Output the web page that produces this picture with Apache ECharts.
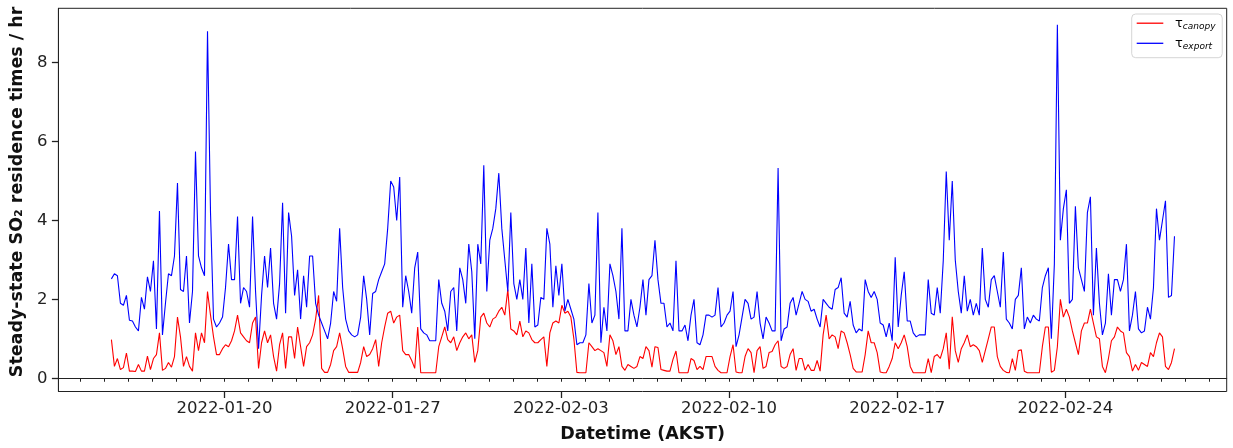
<!DOCTYPE html>
<html>
<head>
<meta charset="utf-8">
<script src="https://cdn.jsdelivr.net/npm/echarts@6/dist/echarts.min.js"></script>
<style>
html,body{margin:0;padding:0;background:#fff;}
#chart{width:1233px;height:448px;}
</style>
</head>
<body>
<div id="chart"></div>
<script>
// ---- data (3-hourly, AKST) ----
const startTime = '2022-01-15T07:00';
const stepHours = 3;
const tauCanopy = [
0.98,0.3,0.5,0.22,0.27,0.64,0.18,0.18,0.17,0.35,
0.18,0.18,0.56,0.22,0.5,0.6,1.15,0.2,0.25,0.4,
0.28,0.55,1.55,1.05,0.3,0.55,0.3,0.18,1.15,0.7,
1.15,0.9,2.2,1.6,1.05,0.6,0.6,0.75,0.85,0.8,
0.95,1.2,1.6,1.15,1.05,0.95,0.9,1.4,1.55,0.25,
0.9,1.2,0.9,1.1,0.55,0.18,0.85,1.15,0.25,1.05,
1.05,0.5,1.3,0.8,0.3,0.8,0.9,1.1,1.5,2.1,
0.25,0.15,0.15,0.35,0.7,0.8,1.15,0.75,0.3,0.15,
0.15,0.15,0.15,0.4,0.8,0.55,0.6,0.75,0.98,0.3,
0.9,1.3,1.65,1.7,1.4,1.55,1.6,0.7,0.6,0.6,
0.45,0.25,1.3,0.14,0.14,0.14,0.14,0.14,0.14,0.8,
1.05,1.3,0.98,0.9,1.05,0.7,0.9,1.05,1.15,1.0,
1.1,0.4,0.7,1.55,1.65,1.4,1.3,1.5,1.55,1.7,
1.8,1.6,2.25,1.25,1.2,1.1,1.45,1.05,1.2,1.15,
0.98,0.9,0.9,0.98,1.05,0.3,1.15,1.4,1.45,1.4,
1.85,1.65,1.7,1.55,1.0,0.15,0.14,0.14,0.14,0.9,
0.8,0.7,0.75,0.7,0.65,0.3,1.1,0.95,0.6,0.8,
0.3,0.2,0.35,0.3,0.25,0.3,0.55,0.5,0.8,0.7,
0.28,0.8,0.78,0.22,0.2,0.18,0.18,0.48,0.69,0.14,
0.14,0.14,0.14,0.5,0.45,0.22,0.3,0.22,0.55,0.55,
0.55,0.3,0.2,0.14,0.14,0.14,0.55,0.85,0.16,0.14,
0.14,0.55,0.75,0.65,0.14,0.7,0.8,0.25,0.3,0.65,
0.68,0.85,0.95,0.3,0.25,0.3,0.6,0.75,0.2,0.5,
0.5,0.2,0.35,0.2,0.2,0.45,0.18,1.1,1.6,1.0,
1.1,1.05,0.75,1.2,1.15,0.9,0.6,0.25,0.16,0.16,
0.16,0.6,1.2,0.9,0.9,0.65,0.16,0.14,0.14,0.3,
0.5,0.9,0.75,0.9,1.1,0.8,0.3,0.14,0.14,0.14,
0.14,0.14,0.5,0.14,0.55,0.6,0.5,0.75,1.15,0.23,
1.56,0.7,0.4,0.75,0.9,1.1,0.8,0.85,0.8,0.7,
0.4,0.7,1.0,1.3,1.3,0.55,0.3,0.2,0.15,0.14,
0.5,0.2,0.7,0.72,0.18,0.14,0.14,0.14,0.14,0.14,
0.8,1.3,1.3,0.15,0.2,0.8,2.0,1.55,1.75,1.55,
1.2,0.9,0.6,1.2,1.4,1.4,1.75,1.4,1.05,1.0,
0.3,0.14,0.5,0.95,1.05,1.3,1.2,1.15,0.65,0.55,
0.18,0.35,0.2,0.4,0.35,0.3,0.65,0.55,0.9,1.15,
1.05,0.3,0.22,0.4,0.75
];
const tauExport = [
2.52,2.65,2.6,1.9,1.85,2.1,1.47,1.45,1.3,1.2,
2.05,1.75,2.57,2.2,2.98,1.25,4.24,1.1,1.9,2.65,
2.6,3.1,4.95,2.25,2.2,3.1,1.4,2.2,5.75,3.1,
2.8,2.6,8.8,4.2,1.5,1.3,1.4,1.55,2.3,3.4,
2.5,2.5,4.1,1.9,2.3,2.2,1.8,4.1,2.2,0.75,
2.1,3.1,2.3,3.3,1.9,1.5,2.4,4.45,1.65,4.2,
3.6,2.1,2.75,1.5,2.6,1.8,3.1,3.1,1.9,1.6,
1.4,1.2,1.0,1.4,2.2,1.95,3.8,2.3,1.5,1.2,
1.1,1.05,1.1,1.55,2.6,2.0,1.1,2.15,2.2,2.5,
2.7,2.9,3.8,5.0,4.85,4.0,5.1,1.8,2.6,2.2,
1.65,2.8,3.2,1.25,1.15,1.1,0.95,0.95,0.95,2.5,
1.9,1.7,1.2,2.2,2.3,1.2,2.8,2.5,1.9,3.4,
2.7,1.0,3.4,2.9,5.4,2.2,3.5,3.8,4.3,5.2,
3.8,3.0,2.2,4.2,2.4,2.0,2.5,2.0,3.3,1.4,
2.9,1.3,1.35,2.05,2.0,3.8,3.4,1.8,2.85,2.1,
2.9,1.7,2.0,1.75,1.5,0.85,0.9,0.9,1.1,2.4,
1.4,1.6,4.2,0.9,1.8,1.2,2.9,2.6,2.2,1.5,
3.8,1.2,1.2,2.0,1.6,1.3,1.8,2.5,1.6,2.5,
2.6,3.5,2.5,1.9,1.9,1.3,1.4,1.2,2.98,1.2,
1.2,1.35,0.95,1.6,2.0,0.9,0.85,1.1,1.6,1.6,
1.55,1.6,2.3,1.3,1.4,1.6,1.7,2.2,0.8,1.1,
1.55,2.0,1.9,1.5,1.55,2.2,1.4,1.0,1.55,1.4,
1.2,1.2,5.33,0.95,1.25,1.3,1.9,2.05,1.6,1.9,
2.2,2.0,1.95,1.7,1.75,1.5,1.3,2.0,1.9,1.8,
1.75,2.25,2.3,2.55,1.65,1.55,1.95,1.35,1.15,1.25,
1.2,2.5,2.2,2.05,2.2,2.0,1.4,1.35,1.05,1.4,
0.95,3.07,1.3,2.1,2.7,1.45,1.45,1.15,1.05,1.1,
1.1,1.1,2.5,1.65,1.6,2.3,1.65,2.98,5.24,3.5,
5.0,3.0,2.2,1.65,2.6,1.7,2.0,1.6,1.9,1.6,
3.3,2.0,1.8,2.5,2.6,2.2,1.8,3.2,1.5,1.4,
1.25,2.0,2.1,2.8,1.25,1.55,1.4,1.6,1.5,1.45,
2.3,2.6,2.8,1.0,2.9,8.96,3.5,4.3,4.78,1.9,
2.0,4.36,2.8,2.5,2.2,4.2,4.6,1.6,3.3,1.9,
1.1,1.4,2.65,1.6,2.5,2.5,2.2,2.5,3.4,1.2,
1.6,2.2,1.25,1.15,1.2,1.8,1.5,2.3,4.3,3.5,
4.0,4.5,2.05,2.1,3.6
];
const majorTickLabels = ['2022-01-20','2022-01-27','2022-02-03','2022-02-10','2022-02-17','2022-02-24'];
const yTickValues = [0, 2, 4, 6, 8];

// ---- build ----
const HOUR = 3600000, DAY = 86400000;
function parseT(s){ const [d,t] = s.split('T'); const [Y,M,D] = d.split('-').map(Number); const [h,m] = (t||'0:0').split(':').map(Number); return Date.UTC(Y,M-1,D,h,m); }
const t0 = parseT(startTime);
const times = tauCanopy.map((_, i) => t0 + i * stepHours * HOUR);
const canopyData = tauCanopy.map((v, i) => [times[i], v]);
const exportData = tauExport.map((v, i) => [times[i], v]);
const ref = parseT(majorTickLabels[0]);
const xMin = ref - 6.915 * DAY;
const xMax = ref + 41.715 * DAY;
const majorVals = majorTickLabels.map(parseT);
const minorVals = [];
for (let t = parseT('2022-01-14'); t <= parseT('2022-03-02'); t += DAY) minorVals.push(t);
function fmt(v){ const d = new Date(v); const p = n => String(n).padStart(2,'0'); return d.getUTCFullYear()+'-'+p(d.getUTCMonth()+1)+'-'+p(d.getUTCDate()); }

const FONT = 'DejaVu Sans';
const chart = echarts.init(document.getElementById('chart'), null, {renderer:'canvas'});
chart.setOption({
  animation: false,
  backgroundColor: '#ffffff',
  textStyle: {fontFamily: FONT},
  grid: {left: 56.3, right: 6.3, top: 8.3, bottom: 52.3, show: true, borderColor: '#222', borderWidth: 1},
  legend: {
    left: 1131.7, top: 14, orient: 'vertical',
    icon: 'rect', itemWidth: 26.6, itemHeight: 1.3, itemGap: 5.6,
    padding: [2.7, 6.7, 6.4, 5],
    backgroundColor: 'rgba(255,255,255,0.8)', borderColor: '#d5d5d5', borderWidth: 1, borderRadius: 4,
    formatter: n => '{t|τ}{s|' + n.slice(1) + '}',
    textStyle: {
      padding: [0, 0, 0, 6.7],
      rich: {
        t: {fontFamily: FONT, fontSize: 13, lineHeight: 16, color: '#000'},
        s: {fontFamily: FONT, fontSize: 9, fontStyle: 'italic', lineHeight: 9, verticalAlign: 'bottom', color: '#000'}
      }
    }
  },
  xAxis: [
    {
      type: 'value', min: xMin, max: xMax, position: 'bottom',
      axisLine: {show: true, lineStyle: {color: '#222', width: 1}},
      axisTick: {show: true, customValues: minorVals, length: 3.5, lineStyle: {color: '#222', width: 1}},
      axisLabel: {show: false},
      splitLine: {show: false}
    },
    {
      type: 'value', min: xMin, max: xMax, position: 'bottom',
      axisLine: {show: false},
      axisTick: {show: true, customValues: majorVals, length: 6.5, lineStyle: {color: '#222', width: 1.3}},
      axisLabel: {show: true, customValues: majorVals, formatter: fmt, margin: 9, fontFamily: FONT, fontSize: 16.5, color: '#222'},
      splitLine: {show: false},
      name: 'Datetime (AKST)', nameLocation: 'middle', nameGap: 33.5,
      nameTextStyle: {fontFamily: FONT, fontWeight: 'bold', fontSize: 17.5, color: '#111'}
    }
  ],
  yAxis: {
    type: 'value', min: -0.336, max: 9.38,
    axisLine: {show: true, lineStyle: {color: '#222', width: 1}},
    axisTick: {show: true, customValues: yTickValues, length: 6.5, lineStyle: {color: '#222', width: 1.3}},
    axisLabel: {customValues: yTickValues, margin: 11, fontFamily: FONT, fontSize: 16.5, color: '#222'},
    splitLine: {show: false},
    name: 'Steady-state SO₂ residence times / hr', nameLocation: 'middle', nameGap: 27, nameRotate: 90,
    nameTextStyle: {fontFamily: FONT, fontWeight: 'bold', fontSize: 17.5, color: '#111', padding: [0, 0, 0, 16]}
  },
  series: [
    {name: 'τcanopy', type: 'line', data: canopyData, showSymbol: false, symbol: 'none', lineStyle: {color: '#ff0000', width: 1.1}, itemStyle: {color: '#ff0000'}, xAxisIndex: 0},
    {name: 'τexport', type: 'line', data: exportData, showSymbol: false, symbol: 'none', lineStyle: {color: '#0000ff', width: 1.1}, itemStyle: {color: '#0000ff'}, xAxisIndex: 0}
  ]
});
</script>
</body>
</html>
